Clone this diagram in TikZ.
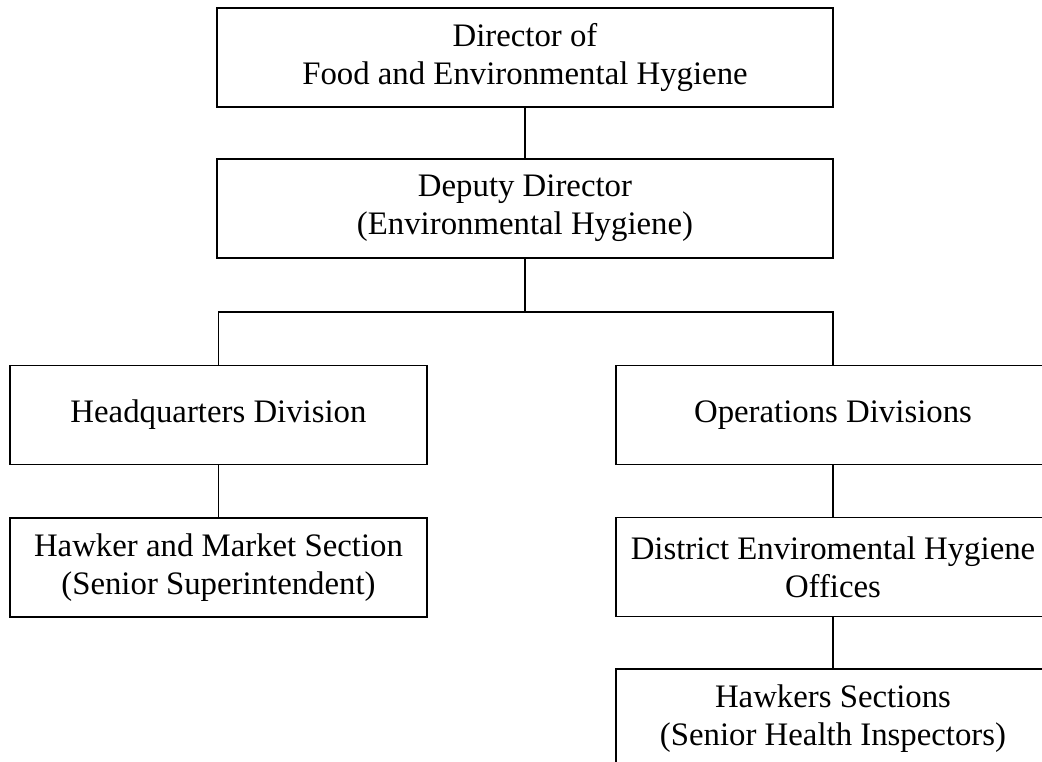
\documentclass[tikz,border=0pt]{standalone}
\usepackage{fontspec}
\setmainfont{Liberation Serif}
\tikzset{
	unit/.style={draw, line width=1.2pt, align=center, inner sep=0pt, minimum height=99pt,
		font=\fontsize{32.8}{38}\selectfont},
	wide/.style={unit, minimum width=616pt},
	half/.style={unit, minimum width=417pt},
	link/.style={line width=1.2pt}
}
\begin{document}
\begin{tikzpicture}[x=1pt, y=-1pt]
	\useasboundingbox (0,0) rectangle (1042,762);
	\clip (0,0) rectangle (1042,762);
	% top of the chart
	\node[wide] (dir) at (525,57.5) {Director of\\Food and Environmental Hygiene};
	\node[wide] (dep) at (525,208.5) {Deputy Director\\(Environmental Hygiene)};
	% two branches
	\node[half] (hq) at (218.5,415) {Headquarters Division};
	\node[half] (hms) at (218.5,567.5) {Hawker and Market Section\\(Senior Superintendent)};
	\node[unit, minimum width=434pt] (ops) at (833,415) {Operations Divisions};
	\node[unit, minimum width=434pt] (deho) at (833,567) {District Enviromental Hygiene\\Offices};
	\node[unit, minimum width=434pt] (hs) at (833,718.5) {Hawkers Sections\\(Senior Health Inspectors)};
	\coordinate (split) at (525,312);
	\draw[link] (dir.south) -- (dep.north);
	\draw[link] (dep.south) -- (split);
	\draw[link] (hq.north) -- (hq.north |- split) -- (ops.north |- split) -- (ops.north);
	\draw[link] (hq.south) -- (hms.north);
	\draw[link] (ops.south) -- (deho.north);
	\draw[link] (deho.south) -- (hs.north);
\end{tikzpicture}
\end{document}
